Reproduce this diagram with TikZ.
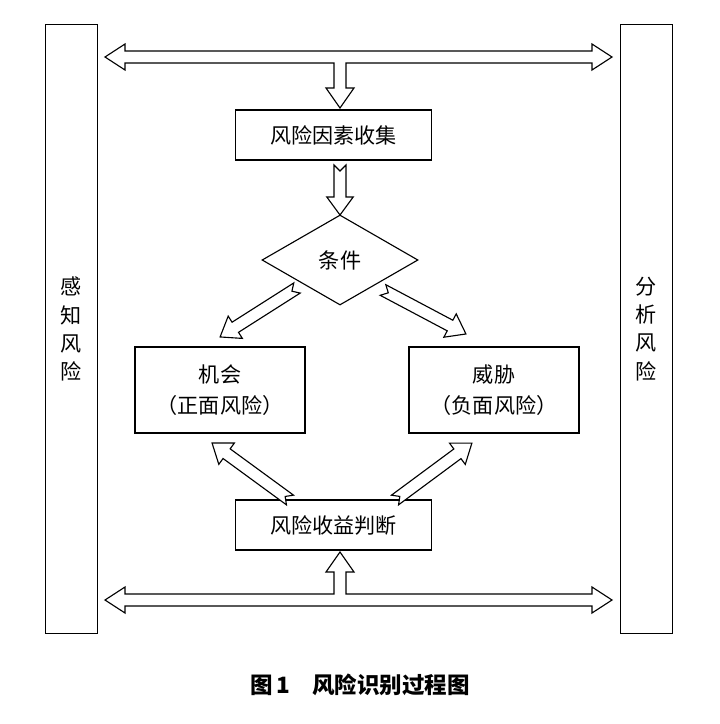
\documentclass[tikz,border=0pt]{standalone}
\usepackage{fontspec}
\setmainfont{Noto Sans CJK SC}
\usetikzlibrary{positioning, calc, shapes.geometric}

\tikzset{
  box/.style={draw, thick, minimum width=4.9cm, minimum height=1.25cm, font=\fontsize{15}{19}\selectfont},
  bigbox/.style={draw, thick, minimum width=4.25cm, minimum height=2.15cm, align=center, font=\fontsize{15}{22}\selectfont},
  side/.style={draw, thick, minimum width=1.32cm, minimum height=15.2cm, align=center, font=\fontsize{15}{20}\selectfont},
  hollow/.style={draw, thick, fill=white, line join=miter}
}
% hollow block arrow with notched tail, from #1 to #2
\newcommand\hollowarrow[2]{%
  \draw[hollow] let \p1=($(#2)-(#1)$), \n1={atan2(\y1,\x1)}, \n2={veclen(\x1,\y1)} in
    [shift={(#1)}, rotate=\n1]
    (0cm,0.15cm) -- ({\n2-0.45cm},0.15cm) -- ({\n2-0.45cm},0.33cm) -- ({\n2},0cm)
    -- ({\n2-0.45cm},-0.33cm) -- ({\n2-0.45cm},-0.15cm) -- (0cm,-0.15cm) -- (0.15cm,0cm) -- cycle;}

\begin{document}
\begin{tikzpicture}[x=0.025cm, y=-0.025cm]
\useasboundingbox (0,0) rectangle (720,724);

\node[side] (sense) at (71.5,329) {感\\知\\风\\险};
\node[side] (analyse) at (646.5,329) {分\\析\\风\\险};

\node[box] (collect) at (333.5,135) {风险因素收集};
\node[draw, thick, diamond, aspect=1.75, minimum width=3.9cm, minimum height=2.25cm,
  font=\fontsize{15}{19}\selectfont] (cond) at (340,260) {条件};
\node[bigbox] (chance) at (220,390) {机会\\（正面风险）};
\node[bigbox] (threat) at (494,390) {威胁\\（负面风险）};
\node[box] (judge) at (333.5,525) {风险收益判断};

% top double arrow with branch
\draw[hollow] (105,57) -- (125,44) -- (125,51) -- (592,51) -- (592,44) -- (612,57)
  -- (592,70) -- (592,63) -- (346,63) -- (346,88) -- (354,88) -- (340,108)
  -- (326,88) -- (334,88) -- (334,63) -- (125,63) -- (125,70) -- cycle;
% bottom double arrow with branch
\draw[hollow] (105,600) -- (125,587) -- (125,594) -- (334,594) -- (334,572) -- (326,572)
  -- (340,552) -- (354,572) -- (346,572) -- (346,594) -- (592,594) -- (592,587)
  -- (612,600) -- (592,613) -- (592,606) -- (125,606) -- (125,613) -- cycle;

\coordinate (c1) at (340,165);
\coordinate (c2) at (340,215);
\hollowarrow{c1}{c2}
\coordinate (l1) at (297,288);
\coordinate (l2) at (220,337);
\hollowarrow{l1}{l2}
\coordinate (r1) at (383,290);
\coordinate (r2) at (466,334);
\hollowarrow{r1}{r2}
\coordinate (b1) at (290,500);
\coordinate (b2) at (212,443);
\hollowarrow{b1}{b2}
\coordinate (b3) at (395,500);
\coordinate (b4) at (472,443);
\hollowarrow{b3}{b4}

\node[font=\bfseries\fontsize{16}{20}\selectfont] (cap) at (360,685) {图\,1\quad 风险识别过程图};
\end{tikzpicture}
\end{document}
